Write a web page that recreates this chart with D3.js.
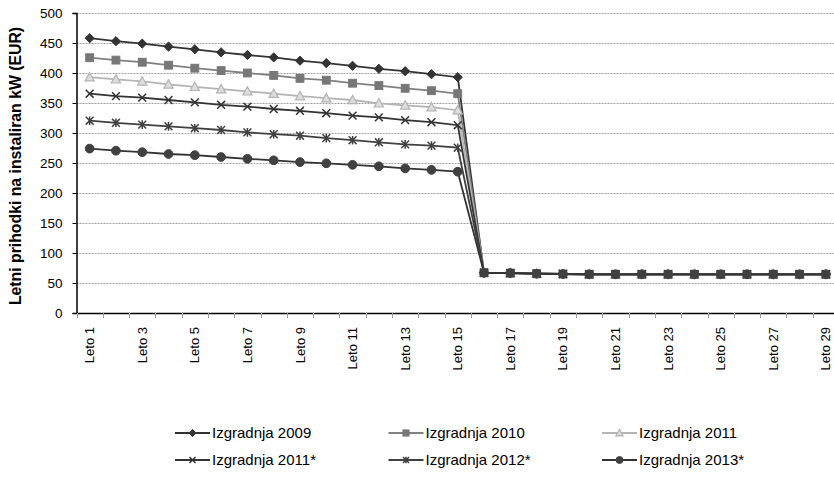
<!DOCTYPE html>
<html>
<head>
<meta charset="utf-8">
<script src="https://cdn.jsdelivr.net/npm/d3@7"></script>
<style>
  html, body { margin: 0; padding: 0; background: #fff; }
  svg { display: block; font-family: "Liberation Sans", Arial, sans-serif; }
</style>
</head>
<body>
<svg id="chart" width="834" height="480"></svg>
<script>
// ---- data ----
const categories = ["Leto 1","Leto 2","Leto 3","Leto 4","Leto 5","Leto 6","Leto 7","Leto 8","Leto 9","Leto 10",
  "Leto 11","Leto 12","Leto 13","Leto 14","Leto 15","Leto 16","Leto 17","Leto 18","Leto 19","Leto 20",
  "Leto 21","Leto 22","Leto 23","Leto 24","Leto 25","Leto 26","Leto 27","Leto 28","Leto 29"];
const seriesNames = ["Izgradnja 2009","Izgradnja 2010","Izgradnja 2011","Izgradnja 2011*","Izgradnja 2012*","Izgradnja 2013*"];
const values2009  = [458, 453, 449, 444, 439.5, 434.5, 430, 426, 420.5, 416.5, 412, 407, 403, 398, 393];
const values2010  = [425.5, 421.5, 418, 413, 408, 404, 400, 396, 391, 388, 383, 379, 374.5, 370.5, 365.5];
const values2011  = [393, 389.5, 386, 381, 377, 373, 369.5, 365.5, 361.5, 358, 355, 349.5, 346, 343, 338];
const values2011s = [365.5, 361.5, 359, 355, 351, 347, 344, 340, 337, 333, 329, 326, 321.5, 318, 313];
const values2012s = [320.5, 317, 314, 311, 308, 305, 301, 298, 295.5, 291.5, 288, 284.5, 281, 279, 275.5];
const values2013s = [274, 270.5, 268, 265, 263, 260, 257, 254.5, 251.5, 249.5, 247, 244.5, 241, 238.5, 235.5];
const tailValues  = [67, 66.5, 65.5, 65, 64.5, 64.5, 64.5, 64.5, 64.5, 64.5, 64.5, 64.5, 64.5, 64.5];
const yTicks = [0, 50, 100, 150, 200, 250, 300, 350, 400, 450, 500];
const yTitle = "Letni prihodki na instaliran kW (EUR)";

const seriesValues = [values2009, values2010, values2011, values2011s, values2012s, values2013s]
  .map(v => v.concat(tailValues));

// ---- styles ----
const styles = [
  {line: "#333333", marker: "diamond", fill: "#333333", stroke: "#333333"},
  {line: "#808080", marker: "square", fill: "#777777", stroke: "#777777"},
  {line: "#b4b4b4", marker: "triangle", fill: "#dddddd", stroke: "#b4b4b4"},
  {line: "#333333", marker: "x", fill: "none", stroke: "#333333"},
  {line: "#404040", marker: "asterisk", fill: "none", stroke: "#404040"},
  {line: "#333333", marker: "circle", fill: "#404040", stroke: "#404040"}
];

const svg = d3.select("#chart");
const plotLeft = 76.5, plotRight = 839, plotTop = 13, plotBottom = 313;

const x = d3.scaleBand().domain(categories).range([plotLeft, plotRight]);
const y = d3.scaleLinear().domain([0, 500]).range([plotBottom, plotTop]);
const cx = c => x(c) + x.bandwidth() / 2;

// gridlines
svg.append("g").selectAll("line").data(yTicks.filter(t => t > 0)).join("line")
  .attr("x1", plotLeft).attr("x2", 834)
  .attr("y1", d => Math.round(y(d)) + 0.5).attr("y2", d => Math.round(y(d)) + 0.5)
  .attr("stroke", "#a0a0a0").attr("stroke-width", 1).attr("stroke-dasharray", "2,1");

// y axis
const yAxis = svg.append("g").attr("transform", `translate(${plotLeft},0)`)
  .call(d3.axisLeft(y).tickValues(yTicks).tickSize(4).tickPadding(10));
yAxis.select(".domain").attr("stroke", "#000").attr("stroke-width", 1.5);
yAxis.selectAll(".tick line").attr("stroke", "#000");
yAxis.selectAll("text").attr("font-size", "13.5px").attr("fill", "#000")
  .attr("font-family", "Liberation Sans, Arial, sans-serif");

// x axis
const xAxis = svg.append("g").attr("transform", `translate(0,${plotBottom})`)
  .call(d3.axisBottom(x).tickSize(0).tickFormat((d, i) => i % 2 === 0 ? d : ""));
xAxis.select(".domain").attr("stroke", "#000").attr("stroke-width", 1.5);
xAxis.selectAll(".tick text")
  .attr("font-size", "13px").attr("fill", "#000")
  .attr("font-family", "Liberation Sans, Arial, sans-serif")
  .attr("text-anchor", "end")
  .attr("transform", "rotate(-90)")
  .attr("x", -14).attr("y", 0).attr("dy", "0.35em");
// boundary ticks
svg.append("g").selectAll("line").data(categories).join("line")
  .attr("x1", d => Math.round(x(d)) + 0.5).attr("x2", d => Math.round(x(d)) + 0.5)
  .attr("y1", plotBottom).attr("y2", plotBottom + 5)
  .attr("stroke", "#999").attr("stroke-width", 1);

// axis title
svg.append("text")
  .attr("transform", `translate(21,${(plotTop + plotBottom) / 2 + 3}) rotate(-90)`)
  .attr("text-anchor", "middle")
  .attr("font-size", "15.8px").attr("font-weight", "bold").attr("fill", "#000")
  .text(yTitle);

// marker drawing
function drawMarker(g, type, st, size) {
  const s = size;
  if (type === "diamond") {
    g.append("path").attr("d", `M0,${-s}L${s},0L0,${s}L${-s},0Z`).attr("fill", st.fill).attr("stroke", st.stroke);
  } else if (type === "square") {
    g.append("rect").attr("x", -s * 0.85).attr("y", -s * 0.85).attr("width", s * 1.7).attr("height", s * 1.7)
      .attr("fill", st.fill).attr("stroke", st.stroke);
  } else if (type === "triangle") {
    g.append("path").attr("d", `M0,${-s}L${s},${s * 0.8}L${-s},${s * 0.8}Z`).attr("fill", st.fill).attr("stroke", st.stroke).attr("stroke-width", 1.2);
  } else if (type === "x") {
    const a = s * 0.85;
    g.append("path").attr("d", `M${-a},${-a}L${a},${a}M${-a},${a}L${a},${-a}`).attr("stroke", st.stroke).attr("stroke-width", 1.5).attr("fill", "none");
  } else if (type === "asterisk") {
    const a = s * 0.85;
    g.append("path").attr("d", `M${-a},${-a}L${a},${a}M${-a},${a}L${a},${-a}M0,${-a * 1.1}L0,${a * 1.1}`).attr("stroke", st.stroke).attr("stroke-width", 1.5).attr("fill", "none");
  } else if (type === "circle") {
    g.append("circle").attr("r", s * 0.95).attr("fill", st.fill).attr("stroke", st.stroke);
  }
}

const line = d3.line().x((d, i) => cx(categories[i])).y(d => y(d));

seriesValues.forEach((vals, si) => {
  const st = styles[si];
  const g = svg.append("g");
  g.append("path").datum(vals).attr("d", line)
    .attr("fill", "none").attr("stroke", st.line).attr("stroke-width", 1.8);
  vals.forEach((v, i) => {
    const mg = g.append("g").attr("transform", `translate(${cx(categories[i])},${y(v)})`);
    drawMarker(mg, st.marker, st, 4.6);
  });
});

// legend
const legendCols = [175, 388.5, 602];
const legendRows = [433, 460];
seriesNames.forEach((name, i) => {
  const st = styles[i];
  const lx = legendCols[i % 3], ly = legendRows[Math.floor(i / 3)];
  const g = svg.append("g").attr("transform", `translate(${lx},${ly})`);
  g.append("line").attr("x1", 0).attr("x2", 35).attr("y1", 0).attr("y2", 0)
    .attr("stroke", st.line).attr("stroke-width", 1.8);
  const mg = g.append("g").attr("transform", "translate(17.5,0)");
  drawMarker(mg, st.marker, st, 3.6);
  g.append("text").attr("x", 37).attr("y", 0).attr("dy", "0.36em")
    .attr("font-size", "15px").attr("fill", "#000").text(name);
});
</script>
</body>
</html>
